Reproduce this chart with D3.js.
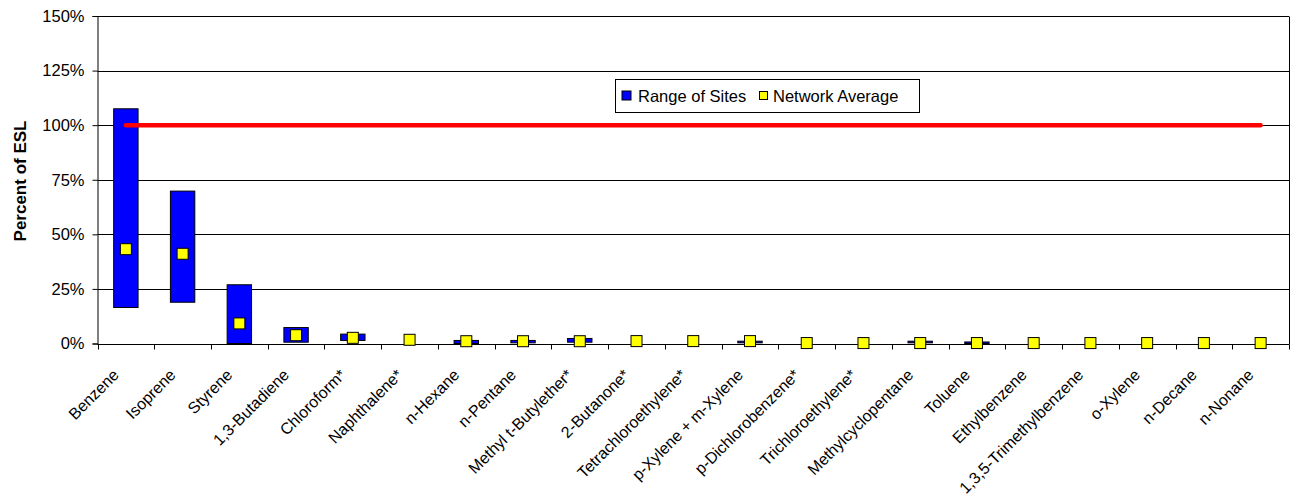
<!DOCTYPE html>
<html>
<head>
<meta charset="utf-8">
<script src="https://cdn.jsdelivr.net/npm/d3@7"></script>
<style>
  html, body { margin: 0; padding: 0; background: #fff; }
  svg { display: block; font-family: "Liberation Sans", Arial, sans-serif; }
</style>
</head>
<body>
<svg id="chart" width="1291" height="502"></svg>
<script>
const categories = ["Benzene", "Isoprene", "Styrene", "1,3-Butadiene", "Chloroform*", "Naphthalene*",
  "n-Hexane", "n-Pentane", "Methyl t-Butylether*", "2-Butanone*", "Tetrachloroethylene*",
  "p-Xylene + m-Xylene", "p-Dichlorobenzene*", "Trichloroethylene*", "Methylcyclopentane",
  "Toluene", "Ethylbenzene", "1,3,5-Trimethylbenzene", "o-Xylene", "n-Decane", "n-Nonane"];
// Range of Sites (low / high, percent of ESL); null = no visible range
const rangeLow  = [16.5, 18.9, 0, 0.6, 1.4, null, 0, 0.3, 0.6, null, null, 0.3, null, null, 0.3, 0, null, null, null, null, null];
const rangeHigh = [107.5, 69.8, 26.9, 7.3, 4.3, null, 1.4, 1.4, 2.3, null, null, 1.05, null, null, 1.05, 0.7, null, null, null, null, null];
// Network Average
const networkAvg = [43.2, 41.1, 9.2, 3.8, 2.6, 1.7, 1.05, 1.05, 1.05, 1.1, 1.1, 1.1, 0.2, 0.2, 0.2, 0.2, 0.2, 0.2, 0.2, 0.2, 0.2];
// ESL reference level
const eslLevel = 100;
const yTicks = [0, 25, 50, 75, 100, 125, 150];
const seriesNames = ["Range of Sites", "Network Average"];

const svg = d3.select("#chart");
const pLeft = 97.5, pRight = 1289, pTop = 16, pBottom = 343.5;

const x = d3.scaleBand().domain(categories).range([pLeft, pRight]).padding(0);
const y = d3.scaleLinear().domain([0, 150]).range([pBottom, pTop]);
const bw = x.bandwidth() * 0.43;
const cx = c => x(c) + x.bandwidth() / 2;

// gridlines
svg.append("g").selectAll("line").data(yTicks).join("line")
  .attr("x1", pLeft).attr("x2", pRight)
  .attr("y1", d => Math.round(y(d)) + 0.5).attr("y2", d => Math.round(y(d)) + 0.5)
  .attr("stroke", "#000").attr("stroke-width", 1);
// right border
svg.append("line").attr("x1", pRight + 0.5).attr("x2", pRight + 0.5)
  .attr("y1", Math.round(y(150)) + 0.5).attr("y2", Math.round(y(0)) + 0.5)
  .attr("stroke", "#000");

// y axis
const yAxis = d3.axisLeft(y).tickValues(yTicks).tickFormat(d => d + "%").tickSize(5).tickPadding(8);
const gy = svg.append("g").attr("transform", `translate(${pLeft},0)`).call(yAxis);
gy.selectAll("text").attr("font-size", 16.5).attr("fill", "#000").attr("font-family", "Liberation Sans, Arial, sans-serif");
gy.selectAll("line").attr("stroke", "#000");
gy.select(".domain").attr("stroke", "#000");

// x axis with ticks at category boundaries
const gx = svg.append("g").attr("transform", `translate(0,${Math.round(pBottom) + 0.5})`);
gx.append("line").attr("x1", pLeft).attr("x2", pRight).attr("stroke", "#000");
gx.selectAll("line.tk").data(categories.concat(["_end"])).join("line").attr("class", "tk")
  .attr("x1", (d, i) => i < categories.length ? Math.round(x(d)) + 0.5 : pRight + 0.5)
  .attr("x2", (d, i) => i < categories.length ? Math.round(x(d)) + 0.5 : pRight + 0.5)
  .attr("y1", 0).attr("y2", 5).attr("stroke", "#000");
gx.selectAll("text").data(categories).join("text")
  .attr("transform", d => `translate(${cx(d) - 6},${376 - Math.round(pBottom) - 0.5}) rotate(-45)`)
  .attr("text-anchor", "end").attr("font-size", 16).attr("fill", "#000")
  .text(d => d);

// y title
svg.append("text").attr("transform", `translate(26,181) rotate(-90)`)
  .attr("text-anchor", "middle").attr("font-size", 17).attr("font-weight", "bold")
  .text("Percent of ESL");

// range bars
const rangeData = categories.map((c, i) => ({ c, lo: rangeLow[i], hi: rangeHigh[i] }))
  .filter(d => d.lo !== null && d.hi !== null);
svg.append("g").selectAll("rect").data(rangeData).join("rect")
  .attr("x", d => cx(d.c) - bw / 2).attr("width", bw)
  .attr("y", d => y(d.hi)).attr("height", d => Math.max(0, y(d.lo) - y(d.hi)))
  .attr("fill", "#0000ff").attr("stroke", "#000").attr("stroke-width", 1);

// ESL line
svg.append("line")
  .attr("x1", cx(categories[0])).attr("x2", cx(categories[categories.length - 1]))
  .attr("y1", y(eslLevel)).attr("y2", y(eslLevel))
  .attr("stroke", "#ff0000").attr("stroke-width", 4.5).attr("stroke-linecap", "round");

// network average markers
const ms = 11;
svg.append("g").selectAll("rect").data(categories.map((c, i) => ({ c, v: networkAvg[i] }))).join("rect")
  .attr("x", d => cx(d.c) - ms / 2).attr("y", d => y(d.v) - ms / 2)
  .attr("width", ms).attr("height", ms)
  .attr("fill", "#ffff00").attr("stroke", "#000").attr("stroke-width", 1);

// legend
const lg = svg.append("g");
lg.append("rect").attr("x", 615.5).attr("y", 79.5).attr("width", 304).attr("height", 33)
  .attr("fill", "#fff").attr("stroke", "#000");
lg.append("rect").attr("x", 622).attr("y", 91).attr("width", 9).attr("height", 9)
  .attr("fill", "#0000ff").attr("stroke", "#000");
lg.append("text").attr("x", 638).attr("y", 101.5).attr("font-size", 16.5).text(seriesNames[0]);
lg.append("rect").attr("x", 759.5).attr("y", 91.5).attr("width", 8).attr("height", 8)
  .attr("fill", "#ffff00").attr("stroke", "#000");
lg.append("text").attr("x", 773).attr("y", 101.5).attr("font-size", 16.5).text(seriesNames[1]);
</script>
</body>
</html>
